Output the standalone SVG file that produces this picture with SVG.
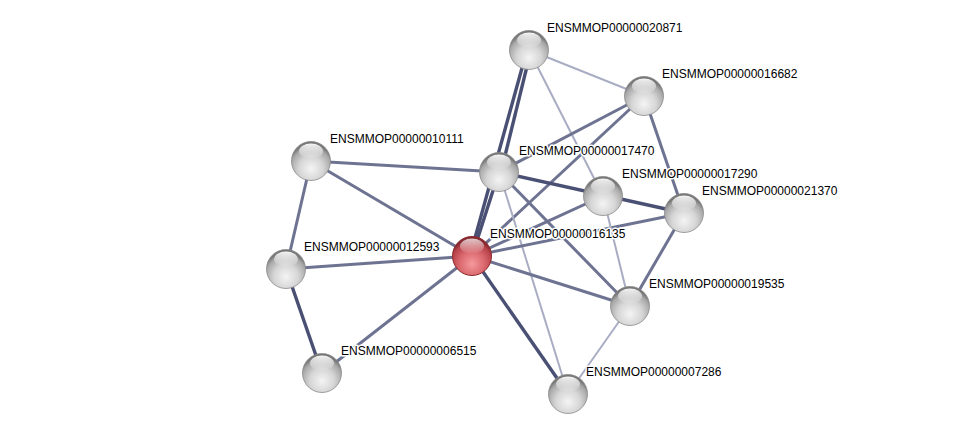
<svg xmlns="http://www.w3.org/2000/svg" width="975" height="439" viewBox="0 0 975 439">
<defs>
<radialGradient id="gs" cx="0.5" cy="0.7" r="0.62">
<stop offset="0" stop-color="#f4f4f4"/>
<stop offset="0.5" stop-color="#d6d6d6"/>
<stop offset="0.85" stop-color="#a8a8a8"/>
<stop offset="1" stop-color="#767676"/>
</radialGradient>
<radialGradient id="rs" cx="0.5" cy="0.7" r="0.62">
<stop offset="0" stop-color="#f59a9d"/>
<stop offset="0.5" stop-color="#db6a6f"/>
<stop offset="0.85" stop-color="#b8434a"/>
<stop offset="1" stop-color="#86262d"/>
</radialGradient>
<linearGradient id="hl" x1="0" y1="0" x2="0" y2="1">
<stop offset="0" stop-color="#ffffff" stop-opacity="0.95"/>
<stop offset="1" stop-color="#ffffff" stop-opacity="0.05"/>
</linearGradient>
<g id="sph">
<circle r="19.5" fill="url(#gs)" stroke="#8a8a8a" stroke-width="0.8"/>
<ellipse cx="0" cy="-10" rx="12" ry="7.5" fill="url(#hl)"/>
</g>
<g id="rsph">
<circle r="19.5" fill="url(#rs)" stroke="#8c2a30" stroke-width="1"/>
<ellipse cx="0" cy="-10" rx="12" ry="7.5" fill="url(#hl)" opacity="0.8"/>
</g>
</defs>
<style>
.e{stroke-linecap:butt;fill:none}
.d{stroke:#4a5073;stroke-width:3.4}
.m{stroke:#6e7392;stroke-width:3}
.l{stroke:#a9adc3;stroke-width:2}
text{font-family:"Liberation Sans",Arial,sans-serif;font-size:12px;fill:#000;stroke:#fff;stroke-width:3;paint-order:stroke;stroke-linejoin:round}
</style>
<rect width="975" height="439" fill="#fff"/>
<g id="edges" class="e">
<line class="l" x1="529" y1="50" x2="644" y2="96"/>
<line class="l" x1="529" y1="50" x2="603" y2="196"/>
<line class="d" x1="531" y1="50" x2="501" y2="172"/>
<line class="d" x1="527" y1="50" x2="470" y2="256"/>
<line class="m" x1="644" y1="96" x2="499" y2="172"/>
<line class="m" x1="644" y1="96" x2="472" y2="256"/>
<line class="m" x1="644" y1="96" x2="684" y2="213"/>
<line class="m" x1="311" y1="161" x2="499" y2="172"/>
<line class="m" x1="311" y1="161" x2="472" y2="256"/>
<line class="m" x1="311" y1="161" x2="286" y2="269"/>
<line class="m" x1="286" y1="269" x2="472" y2="256"/>
<line class="d" x1="286" y1="269" x2="322" y2="373"/>
<line class="m" x1="322" y1="373" x2="472" y2="256"/>
<line class="d" x1="499" y1="172" x2="472" y2="256"/>
<line class="d" x1="499" y1="172" x2="684" y2="213"/>
<line class="m" x1="499" y1="172" x2="630" y2="306"/>
<line class="l" x1="499" y1="172" x2="568" y2="394"/>
<line class="m" x1="472" y1="256" x2="603" y2="196"/>
<line class="m" x1="472" y1="256" x2="684" y2="213"/>
<line class="m" x1="472" y1="256" x2="630" y2="306"/>
<line class="d" x1="472" y1="256" x2="568" y2="394"/>
<line class="l" x1="603" y1="196" x2="630" y2="306"/>
<line class="m" x1="684" y1="213" x2="630" y2="306"/>
<line class="l" x1="630" y1="306" x2="568" y2="394"/>
</g>
<g id="n20871"><use href="#sph" x="529" y="50"/><text x="547" y="32">ENSMMOP00000020871</text></g>
<g id="n16682"><use href="#sph" x="644" y="96"/><text x="662" y="78">ENSMMOP00000016682</text></g>
<g id="n10111"><use href="#sph" x="311" y="161"/><text x="330" y="143">ENSMMOP00000010111</text></g>
<g id="n17470"><use href="#sph" x="499" y="172"/><text x="519" y="155">ENSMMOP00000017470</text></g>
<g id="n17290"><use href="#sph" x="603" y="196"/><text x="622" y="178">ENSMMOP00000017290</text></g>
<g id="n21370"><use href="#sph" x="684" y="213"/><text x="702" y="195">ENSMMOP00000021370</text></g>
<g id="n16135"><use href="#rsph" x="472" y="256"/><text x="490" y="238">ENSMMOP00000016135</text></g>
<g id="n12593"><use href="#sph" x="286" y="269"/><text x="304" y="251">ENSMMOP00000012593</text></g>
<g id="n19535"><use href="#sph" x="630" y="306"/><text x="649" y="288">ENSMMOP00000019535</text></g>
<g id="n6515"><use href="#sph" x="322" y="373"/><text x="341" y="355">ENSMMOP00000006515</text></g>
<g id="n7286"><use href="#sph" x="568" y="394"/><text x="586" y="376">ENSMMOP00000007286</text></g>
</svg>
